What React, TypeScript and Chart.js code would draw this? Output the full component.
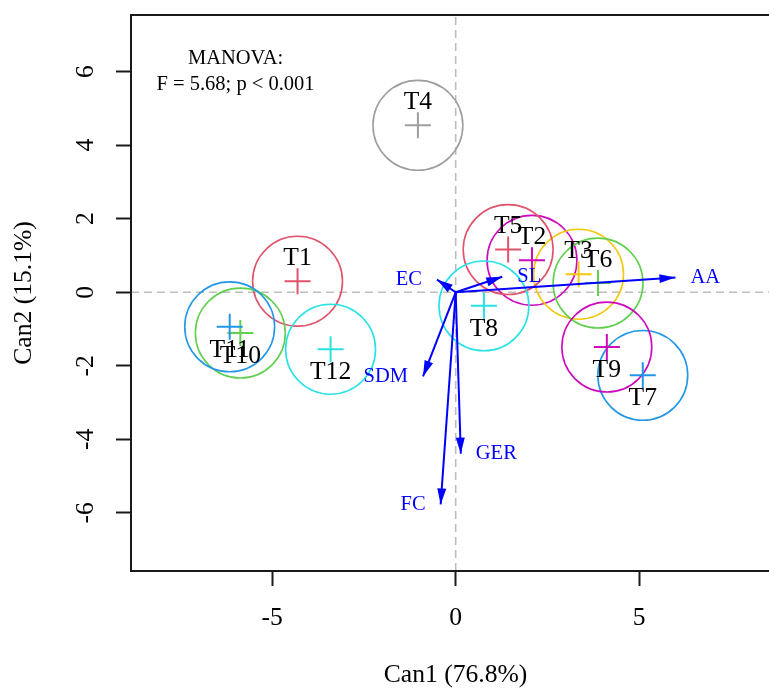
import React, { useEffect, useRef } from "react";
import { Chart, registerables } from "chart.js";

Chart.register(...registerables);

// ---- Data ----
const groups = ["T1", "T2", "T3", "T4", "T5", "T6", "T7", "T8", "T9", "T10", "T11", "T12"];
const can1 = [-4.31, 2.08, 3.35, -1.03, 1.43, 3.88, 5.1, 0.77, 4.12, -5.87, -6.16, -3.41];
const can2 = [0.3, 0.87, 0.49, 4.54, 1.16, 0.25, -2.26, -0.37, -1.49, -1.11, -0.94, -1.55];
const groupColors = [
  "#DF536B", "#CD0BBC", "#F5C710", "#9E9E9E", "#DF536B", "#61D04F",
  "#2297E6", "#28E2E5", "#CD0BBC", "#61D04F", "#2297E6", "#28E2E5",
];
const circleRadius = 1.225;

const variables = ["AA", "SL", "EC", "SDM", "GER", "FC"];
const vecCan1 = [5.99, 1.27, -0.51, -0.89, 0.14, -0.41];
const vecCan2 = [0.4, 0.42, 0.345, -2.29, -4.39, -5.77];

const xTicks = [-5, 0, 5];
const yTicks = [-6, -4, -2, 0, 2, 4, 6];
const xRange = [-8.85, 8.84];
const yRange = [-7.58, 7.54];

const xTitle = "Can1 (76.8%)";
const yTitle = "Can2 (15.1%)";
const manovaLines = ["MANOVA:", "F = 5.68; p < 0.001"];
const manovaPos = [-6, 6];

const SERIF = "'Liberation Serif', 'Times New Roman', Times, serif";
const FRAME = "#1a1a1a";

const overlayPlugin = {
  id: "overlay",
  afterDatasetsDraw(chart: any) {
    const { ctx, chartArea, scales } = chart;
    const x = scales.x;
    const y = scales.y;
    ctx.save();
    ctx.beginPath();
    ctx.rect(chartArea.left, chartArea.top, chartArea.right - chartArea.left, chartArea.bottom - chartArea.top);
    ctx.clip();

    // vector arrowheads and labels
    const x0 = x.getPixelForValue(0);
    const y0 = y.getPixelForValue(0);
    variables.forEach((name, i) => {
      const x1 = x.getPixelForValue(vecCan1[i]);
      const y1 = y.getPixelForValue(vecCan2[i]);
      const ang = Math.atan2(y1 - y0, x1 - x0);
      const L = 16;
      const W = 4.5;
      const c = Math.cos(ang);
      const s = Math.sin(ang);
      ctx.fillStyle = "#0000FF";
      ctx.beginPath();
      ctx.moveTo(x1, y1);
      ctx.lineTo(x1 - L * c + W * s, y1 - L * s - W * c);
      ctx.lineTo(x1 - L * c - W * s, y1 - L * s + W * c);
      ctx.closePath();
      ctx.fill();
      const right = vecCan1[i] > 0;
      ctx.font = `20.5px ${SERIF}`;
      ctx.textBaseline = "middle";
      ctx.textAlign = right ? "left" : "right";
      ctx.fillText(name, x1 + (right ? 15 : -15), y1);
    });

    // group labels
    ctx.fillStyle = "#000";
    ctx.font = `25.6px ${SERIF}`;
    ctx.textAlign = "center";
    ctx.textBaseline = "middle";
    groups.forEach((g, i) => {
      const px = x.getPixelForValue(can1[i]);
      const py = y.getPixelForValue(can2[i]);
      ctx.fillText(g, px, can2[i] > 0 ? py - 23 : py + 23);
    });

    // MANOVA text
    ctx.font = `20.5px ${SERIF}`;
    const mx = x.getPixelForValue(manovaPos[0]);
    const my = y.getPixelForValue(manovaPos[1]);
    const lh = 25.3;
    manovaLines.forEach((t, k) => {
      ctx.fillText(t, mx, my + (k - (manovaLines.length - 1) / 2) * lh);
    });
    ctx.restore();
  },
  afterDraw(chart: any) {
    const { ctx, chartArea } = chart;
    ctx.save();
    ctx.strokeStyle = FRAME;
    ctx.lineWidth = 2;
    ctx.strokeRect(chartArea.left, chartArea.top, chartArea.right - chartArea.left, chartArea.bottom - chartArea.top);
    ctx.restore();
  },
};

const zeroPadding = (s: any) => {
  s.paddingTop = 0;
  s.paddingBottom = 0;
  s.paddingLeft = 0;
  s.paddingRight = 0;
};

export default function App() {
  const ref = useRef<HTMLCanvasElement | null>(null);

  useEffect(() => {
    if (!ref.current) return;
    const radiusPx = (c: any) => {
      const s = c.chart.scales.x;
      if (!s) return 40;
      return Math.abs(s.getPixelForValue(circleRadius) - s.getPixelForValue(0));
    };
    const centers = groups.map((_, i) => ({ x: can1[i], y: can2[i] }));
    const datasets: any[] = [
      {
        label: "zero-x",
        data: [{ x: xRange[0], y: 0 }, { x: xRange[1], y: 0 }],
        showLine: true,
        borderColor: "#BDBDBD",
        borderWidth: 1.6,
        borderDash: [8, 5],
        pointRadius: 0,
        order: 5,
      },
      {
        label: "zero-y",
        data: [{ x: 0, y: yRange[0] }, { x: 0, y: yRange[1] }],
        showLine: true,
        borderColor: "#BDBDBD",
        borderWidth: 1.6,
        borderDash: [8, 5],
        pointRadius: 0,
        order: 5,
      },
      {
        label: "circles",
        data: centers,
        showLine: false,
        pointStyle: "circle",
        pointRadius: radiusPx,
        pointHoverRadius: radiusPx,
        pointBorderColor: groupColors,
        pointBackgroundColor: "rgba(0,0,0,0)",
        pointBorderWidth: 1.6,
        pointHoverBorderWidth: 1.6,
        order: 4,
      },
      {
        label: "means",
        data: centers,
        showLine: false,
        pointStyle: "cross",
        pointRadius: 13,
        pointHoverRadius: 13,
        pointBorderColor: groupColors,
        pointBackgroundColor: groupColors,
        pointBorderWidth: 2,
        pointHoverBorderWidth: 2,
        order: 3,
      },
      ...variables.map((v, i) => ({
        label: v,
        data: [{ x: 0, y: 0 }, { x: vecCan1[i], y: vecCan2[i] }],
        showLine: true,
        borderColor: "#0000FF",
        borderWidth: 2,
        pointRadius: 0,
        order: 2,
      })),
    ];

    const tickFont = { family: SERIF, size: 25.6, lineHeight: 1.2 };

    const chart = new Chart(ref.current, {
      type: "scatter",
      data: { datasets },
      plugins: [overlayPlugin],
      options: {
        responsive: false,
        animation: false,
        events: [],
        layout: { autoPadding: false, padding: { top: 15, right: 0, bottom: 0, left: 0 } },
        plugins: { legend: { display: false }, tooltip: { enabled: false } },
        scales: {
          x: {
            type: "linear",
            min: xRange[0],
            max: xRange[1],
            afterBuildTicks: (s: any) => {
              s.ticks = xTicks.map((v) => ({ value: v }));
            },
            afterFit: (s: any) => {
              s.height = 122;
              zeroPadding(s);
            },
            grid: {
              display: true,
              drawOnChartArea: false,
              drawTicks: true,
              tickLength: 15,
              tickWidth: 2,
              tickColor: FRAME,
            },
            border: { display: false },
            ticks: {
              font: tickFont,
              color: "#000",
              padding: 17,
              maxRotation: 0,
              autoSkip: false,
              callback: (v: any) => String(v),
            },
            title: {
              display: true,
              text: xTitle,
              color: "#000",
              font: { family: SERIF, size: 25.6, lineHeight: 1.2 },
              padding: { top: 0, bottom: 2 },
            },
          },
          y: {
            type: "linear",
            min: yRange[0],
            max: yRange[1],
            afterBuildTicks: (s: any) => {
              s.ticks = yTicks.map((v) => ({ value: v }));
            },
            afterFit: (s: any) => {
              s.width = 131;
              zeroPadding(s);
            },
            grid: {
              display: true,
              drawOnChartArea: false,
              drawTicks: true,
              tickLength: 15,
              tickWidth: 2,
              tickColor: FRAME,
            },
            border: { display: false },
            ticks: {
              font: tickFont,
              color: "#000",
              padding: 19,
              minRotation: 90,
              maxRotation: 90,
              crossAlign: "center",
              autoSkip: false,
              callback: (v: any) => String(v),
            },
            title: {
              display: true,
              text: yTitle,
              color: "#000",
              font: { family: SERIF, size: 25.6, lineHeight: 1.2 },
              padding: { top: 9, bottom: 0 },
            },
          },
        },
      } as any,
    });
    return () => chart.destroy();
  }, []);

  return (
    <div
      style={{
        position: "fixed",
        left: 0,
        top: 0,
        width: 769,
        height: 693,
        overflow: "hidden",
        background: "#fff",
      }}
    >
      <canvas ref={ref} width={780} height={693} style={{ display: "block", width: 780, height: 693 }} />
    </div>
  );
}
